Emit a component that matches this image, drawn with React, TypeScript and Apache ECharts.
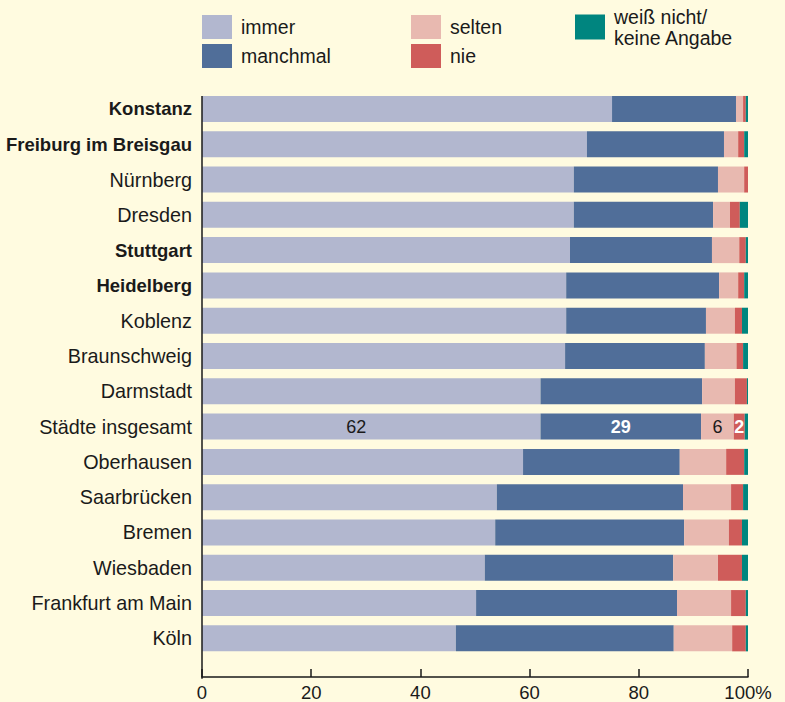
import React, { useEffect, useRef } from "react";
import * as echarts from "echarts";

const cities = [
  "Konstanz",
  "Freiburg im Breisgau",
  "Nürnberg",
  "Dresden",
  "Stuttgart",
  "Heidelberg",
  "Koblenz",
  "Braunschweig",
  "Darmstadt",
  "Städte insgesamt",
  "Oberhausen",
  "Saarbrücken",
  "Bremen",
  "Wiesbaden",
  "Frankfurt am Main",
  "Köln",
];
const boldCities = ["Konstanz", "Freiburg im Breisgau", "Stuttgart", "Heidelberg"];
const labelledRow = "Städte insgesamt";

const immer = [75.1, 70.5, 68.1, 68.1, 67.4, 66.7, 66.7, 66.5, 62.0, 62.0, 58.8, 54.0, 53.7, 51.8, 50.2, 46.5];
const manchmal = [22.7, 25.1, 26.4, 25.5, 26.0, 28.0, 25.6, 25.6, 29.6, 29.4, 28.7, 34.1, 34.6, 34.5, 36.8, 39.9];
const selten = [1.3, 2.6, 4.8, 3.1, 5.0, 3.5, 5.3, 5.8, 6.0, 6.0, 8.5, 8.8, 8.2, 8.2, 9.9, 10.7];
const nie = [0.5, 1.1, 0.7, 1.8, 1.2, 1.1, 1.3, 1.2, 2.2, 2.0, 3.3, 2.2, 2.4, 4.4, 2.7, 2.5];
const weissNicht = [0.6, 0.7, 0.0, 1.5, 0.4, 0.7, 1.1, 0.9, 0.4, 0.6, 0.7, 0.9, 1.1, 1.3, 0.4, 0.4];

const xTicks = [0, 20, 40, 60, 80, 100];

const seriesNames = ["immer", "manchmal", "selten", "nie", "weiß nicht/\nkeine Angabe"];
const seriesValues = [immer, manchmal, selten, nie, weissNicht];
const seriesColors = ["#b2b7cf", "#506e99", "#e8b9b0", "#cf5c5a", "#00857f"];

const FONT = "'Liberation Sans', Arial, sans-serif";
const TEXT = "#1a1a1a";
const BG = "#fffbe0";

export default function App() {
  const ref = useRef<HTMLDivElement>(null);

  useEffect(() => {
    if (!ref.current) return;
    const chart = echarts.init(ref.current, null, { renderer: "svg" });

    const gridLeft = 202;
    const gridRight = 37;
    const gridTop = 91.3;
    const band = 35.4;
    const gridHeight = band * cities.length;
    const barW = 26;
    const xOffset = 21;

    const labelStyles = [
      { color: TEXT, fontWeight: "normal", offset: [-15, 0] },
      { color: "#ffffff", fontWeight: "bold", offset: [0, 0] },
      { color: TEXT, fontWeight: "normal", offset: [0, 0] },
      { color: "#ffffff", fontWeight: "bold", offset: [0, 0] },
      null,
    ];

    const series = seriesNames.map((name, si) => ({
      name,
      type: "bar",
      stack: "total",
      barWidth: barW,
      itemStyle: { color: seriesColors[si] },
      emphasis: { disabled: true },
      data: seriesValues[si].map((v, i) => {
        const ls = labelStyles[si];
        if (cities[i] === labelledRow && ls) {
          return {
            value: v,
            label: {
              show: true,
              position: "inside",
              formatter: (p: any) => String(Math.round(p.value)),
              fontSize: 18,
              fontFamily: FONT,
              color: ls.color,
              fontWeight: ls.fontWeight,
              offset: ls.offset,
            },
          };
        }
        return v;
      }),
    }));

    const legendText = { fontSize: 19.5, fontFamily: FONT, color: TEXT, padding: [0, 0, 0, 4] };

    chart.setOption({
      animation: false,
      backgroundColor: BG,
      legend: [
        {
          data: ["immer", "manchmal"],
          orient: "vertical",
          left: 202,
          top: 15,
          padding: 0,
          itemWidth: 30,
          itemHeight: 24,
          itemGap: 5,
          icon: "rect",
          selectedMode: false,
          textStyle: legendText,
        },
        {
          data: ["selten", "nie"],
          orient: "vertical",
          left: 411,
          top: 15,
          padding: 0,
          itemWidth: 30,
          itemHeight: 24,
          itemGap: 5,
          icon: "rect",
          selectedMode: false,
          textStyle: legendText,
        },
        {
          data: ["weiß nicht/\nkeine Angabe"],
          orient: "vertical",
          left: 575,
          top: -4,
          padding: 0,
          itemWidth: 30,
          itemHeight: 25,
          icon: "rect",
          selectedMode: false,
          textStyle: { ...legendText, lineHeight: 21, padding: [20, 0, 0, 4] },
        },
      ],
      grid: {
        left: gridLeft,
        right: gridRight,
        top: gridTop,
        height: gridHeight,
        containLabel: false,
      },
      xAxis: {
        type: "value",
        min: xTicks[0],
        max: xTicks[xTicks.length - 1],
        interval: xTicks[1] - xTicks[0],
        offset: xOffset,
        axisLine: { show: true, lineStyle: { color: TEXT, width: 1.5 } },
        axisTick: { show: true, inside: true, length: 8, lineStyle: { color: TEXT, width: 1.5 } },
        splitLine: { show: false },
        axisLabel: {
          fontSize: 18.5,
          fontFamily: FONT,
          color: TEXT,
          margin: 6,
          formatter: (v: number) => (v === 100 ? "100%" : String(v)),
        },
      },
      yAxis: {
        type: "category",
        inverse: true,
        data: cities,
        axisLine: { show: false },
        axisTick: { show: false },
        axisLabel: {
          margin: 10,
          formatter: (v: string) => (boldCities.includes(v) ? `{b|${v}}` : `{n|${v}}`),
          rich: {
            b: { fontSize: 18.5, fontFamily: FONT, color: TEXT, fontWeight: "bold" },
            n: { fontSize: 19.8, fontFamily: FONT, color: TEXT },
          },
        },
      },
      graphic: [
        {
          type: "line",
          shape: {
            x1: gridLeft,
            y1: gridTop + (band - barW) / 2,
            x2: gridLeft,
            y2: gridTop + gridHeight + xOffset,
          },
          style: { stroke: TEXT, lineWidth: 1.5 },
          z: 10,
        },
      ],
      series,
    });

    return () => chart.dispose();
  }, []);

  return (
    <div
      ref={ref}
      style={{ position: "fixed", left: 0, top: 0, width: 785, height: 702, background: BG }}
    />
  );
}
